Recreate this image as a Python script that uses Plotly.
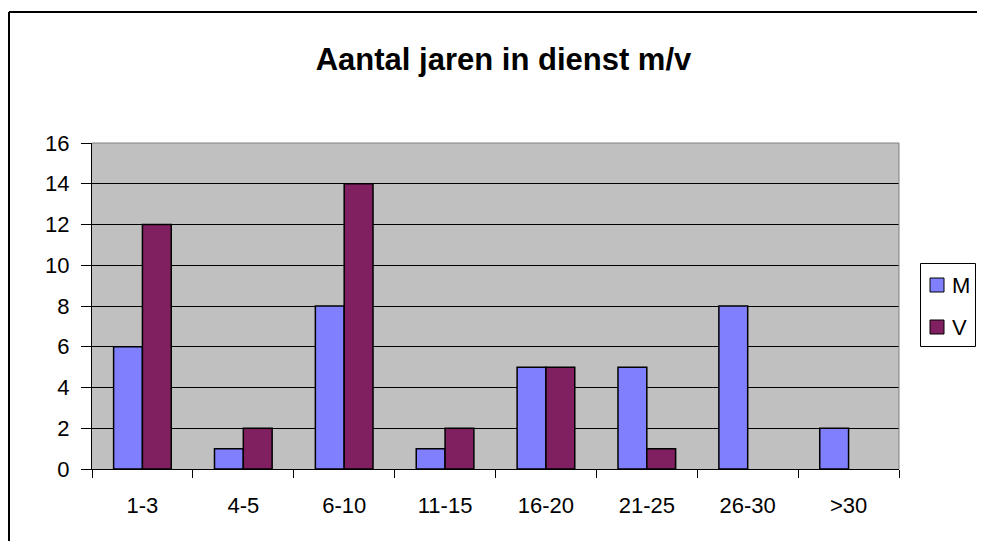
import plotly.graph_objects as go

categories = ["1-3", "4-5", "6-10", "11-15", "16-20", "21-25", "26-30", ">30"]
m_values = [6, 1, 8, 1, 5, 5, 8, 2]
v_values = [12, 2, 14, 2, 5, 1, 0, 0]
y_ticks = [0, 2, 4, 6, 8, 10, 12, 14, 16]
series_names = ["M", "V"]
series_colors = ["#8080FF", "#802060"]
title_text = "Aantal jaren in dienst m/v"

# the page body has an 8px margin, so the figure is sized to fit the window
OFF = 8
W, H = 985 - OFF, 549 - 2 * OFF
L, R, T, B = 92 - OFF, 899 - OFF, 143 - OFF, 469 - OFF
pw, ph = R - L, B - T


def px_x(x):
    return (x - L) / pw


def px_y(y):
    return (B - y) / ph


FONT = "Liberation Sans, Arial, sans-serif"


def plotted(vals):
    return [v if v != 0 else None for v in vals]


fig = go.Figure()
for name, vals, col in zip(series_names, [m_values, v_values], series_colors):
    fig.add_trace(go.Bar(name=name, x=categories, y=plotted(vals),
                         marker=dict(color=col, line=dict(color="black", width=1.5)),
                         showlegend=False))

shapes = [
    # plot area right and top edges (gray)
    dict(type="line", xref="paper", yref="paper", x0=1, x1=1, y0=0, y1=1,
         line=dict(color="#808080", width=1)),
    dict(type="line", xref="paper", yref="paper", x0=0, x1=1, y0=1, y1=1,
         line=dict(color="#808080", width=1)),
    # outer chart border (left & top visible)
    dict(type="line", xref="paper", yref="paper", x0=px_x(1), x1=px_x(1),
         y0=px_y(4), y1=px_y(H + 10), line=dict(color="black", width=2)),
    dict(type="line", xref="paper", yref="paper", x0=px_x(1), x1=px_x(W + 10),
         y0=px_y(4), y1=px_y(4), line=dict(color="black", width=2)),
    # legend box
    dict(type="rect", xref="paper", yref="paper", x0=px_x(912.5), x1=px_x(967.5),
         y0=px_y(255.5), y1=px_y(338.5), line=dict(color="black", width=1),
         fillcolor="white"),
]
annotations = []
legend_rows = [277, 319]  # key centre (fig px)
for name, col, yc in zip(series_names, series_colors, legend_rows):
    shapes.append(dict(type="rect", xref="paper", yref="paper",
                       x0=px_x(922), x1=px_x(936), y0=px_y(yc - 7), y1=px_y(yc + 7),
                       line=dict(color="black", width=1), fillcolor=col))
    annotations.append(dict(text=name, xref="paper", yref="paper", x=px_x(942),
                            y=px_y(yc), xanchor="left", yanchor="middle",
                            showarrow=False, font=dict(size=22, family=FONT, color="black")))

fig.update_layout(
    width=W, height=H,
    margin=dict(l=L, r=W - R, t=T, b=H - B, pad=0),
    paper_bgcolor="white",
    plot_bgcolor="#C0C0C0",
    barmode="group",
    bargap=0.4286,
    bargroupgap=0,
    font=dict(family=FONT, size=22, color="black"),
    title=dict(text="<b>" + title_text + "</b>", x=495.5 / W, xanchor="center",
               y=1 - 51 / H, yanchor="middle", font=dict(size=31, family=FONT, color="black")),
    showlegend=False,
    xaxis=dict(showgrid=False, showline=True, linecolor="black", linewidth=1,
               ticks="outside", tickson="boundaries", ticklen=8, tickcolor="black",
               tickwidth=1, ticklabelstandoff=17, tickfont=dict(size=22)),
    yaxis=dict(range=[0, 16], tickvals=y_ticks, showgrid=True, gridcolor="black",
               gridwidth=1, showline=True, linecolor="black", linewidth=1,
               ticks="outside", ticklen=10, tickcolor="black", tickwidth=1,
               ticklabelstandoff=7, tickfont=dict(size=22), zeroline=False),
    shapes=shapes,
    annotations=annotations,
)

fig.write_html("out.html")
